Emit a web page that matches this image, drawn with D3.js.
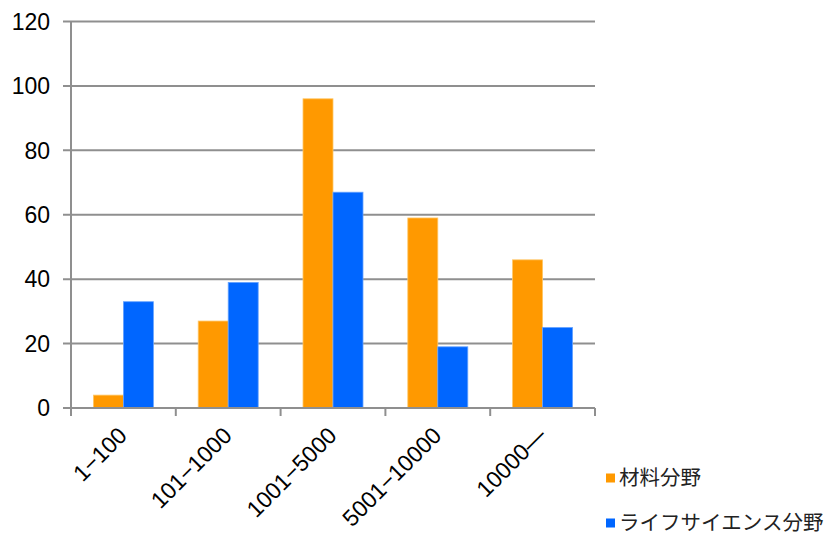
<!DOCTYPE html>
<html>
<head>
<meta charset="utf-8">
<script src="https://cdn.jsdelivr.net/npm/d3@7"></script>
<style>
  html, body { margin: 0; padding: 0; background: #fff; }
  svg { display: block; }
  .tick-label { font-family: "Liberation Sans", Arial, sans-serif; font-size: 23px; fill: #000; }
  .legend-label { font-family: "Noto Sans CJK JP", sans-serif; font-size: 20.5px; fill: #222; }
</style>
</head>
<body>
<svg id="chart" width="835" height="535"></svg>
<script>
// Categories (size ranges) and per-field counts
const categories = ["1\u2212100", "101\u22121000", "1001\u22125000", "5001\u221210000", "10000\u2014"];
const seriesNames = ["材料分野", "ライフサイエンス分野"];
const materials = [4, 27, 96, 59, 46];
const lifeScience = [33, 39, 67, 19, 25];
const yTicks = [0, 20, 40, 60, 80, 100, 120];
const colors = ["#ff9900", "#0066ff"];

const svg = d3.select("#chart");
const plot = { left: 71, right: 595, top: 21.5, bottom: 408 };

const x = d3.scaleBand().domain(categories).range([plot.left, plot.right]).paddingInner(0).paddingOuter(0);
const inner = d3.scaleBand().domain(seriesNames).range([0, 60]);
const y = d3.scaleLinear().domain([0, 120]).range([plot.bottom, plot.top]);

const gridColor = "#8f8f8f";

// Horizontal grid lines, extended left as tick marks
svg.append("g").selectAll("line").data(yTicks).join("line")
  .attr("x1", plot.left - 8).attr("x2", plot.right)
  .attr("y1", d => y(d)).attr("y2", d => y(d))
  .attr("stroke", gridColor).attr("stroke-width", 2);

// Y tick labels
svg.append("g").selectAll("text").data(yTicks).join("text")
  .attr("class", "tick-label")
  .attr("x", plot.left - 21).attr("y", d => y(d))
  .attr("dy", "0.36em").attr("text-anchor", "end")
  .text(d => d);

// Vertical axis line
svg.append("line")
  .attr("x1", plot.left).attr("x2", plot.left)
  .attr("y1", plot.top).attr("y2", plot.bottom + 8)
  .attr("stroke", gridColor).attr("stroke-width", 2);

// X tick marks at band boundaries
const boundaries = categories.map(c => x(c)).concat([x(categories[categories.length - 1]) + x.bandwidth()]);
svg.append("g").selectAll("line").data(boundaries.slice(1)).join("line")
  .attr("x1", d => d).attr("x2", d => d)
  .attr("y1", plot.bottom).attr("y2", plot.bottom + 8)
  .attr("stroke", gridColor).attr("stroke-width", 2);

// Bars
const rows = categories.map((c, i) => ({ cat: c, values: [materials[i], lifeScience[i]] }));
const groupOffset = (x.bandwidth() - 60) / 2;
const groups = svg.append("g").selectAll("g").data(rows).join("g")
  .attr("transform", d => `translate(${x(d.cat) + groupOffset},0)`);
groups.selectAll("rect").data(d => d.values.map((v, j) => ({ name: seriesNames[j], v, j }))).join("rect")
  .attr("x", d => inner(d.name))
  .attr("width", inner.bandwidth())
  .attr("y", d => y(d.v))
  .attr("height", d => y(0) - y(d.v))
  .attr("fill", d => colors[d.j])
  .attr("stroke", d => d.j === 0 ? "#ffc766" : "#66a3ff")
  .attr("stroke-width", 0.8);

// Redraw baseline over bar bottoms
svg.append("line")
  .attr("x1", plot.left - 8).attr("x2", plot.right)
  .attr("y1", y(0)).attr("y2", y(0))
  .attr("stroke", gridColor).attr("stroke-width", 2);

// Rotated category labels
svg.append("g").selectAll("text").data(categories).join("text")
  .attr("class", "tick-label")
  .attr("text-anchor", "end")
  .attr("transform", d => `translate(${x(d) + x.bandwidth() / 2 + 5},${plot.bottom + 29}) rotate(-45)`)
  .text(d => d);

// Legend
const legend = svg.append("g").selectAll("g").data(seriesNames).join("g")
  .attr("transform", (d, i) => `translate(606,${478 + i * 45})`);
legend.append("rect").attr("x", 0).attr("y", -4.5).attr("width", 9).attr("height", 9)
  .attr("fill", (d, i) => colors[i]);
legend.append("text").attr("class", "legend-label")
  .attr("x", 13).attr("y", 0).attr("dy", "0.36em")
  .text(d => d);
</script>
</body>
</html>
